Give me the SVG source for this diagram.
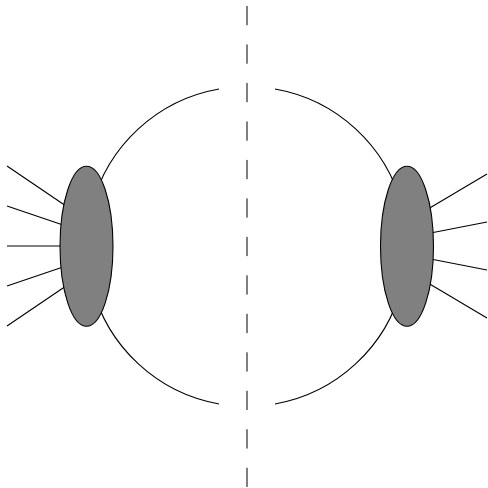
<svg xmlns="http://www.w3.org/2000/svg" width="488" height="488" viewBox="0 0 488 488">
<style>
.ln{stroke:#000;stroke-width:1.1;fill:none}
.blob{fill:#808080;stroke:#000;stroke-width:1.1}
.axis{stroke:#000;stroke-width:1;stroke-dasharray:19.24 19.24;fill:none}
</style>
<rect width="488" height="488" fill="#fff"/>
<g id="connectors">
<line class="axis" x1="247" y1="6" x2="247" y2="487"/>
<path class="ln" d="M219,89 A160,160 0 0 0 92,206"/>
<path class="ln" d="M219,404 A160,160 0 0 1 92,286"/>
<path class="ln" d="M275,89 A160,160 0 0 1 402,206"/>
<path class="ln" d="M275,404 A160,160 0 0 0 402,286"/>
<line class="ln" x1="7" y1="166" x2="66" y2="206"/>
<line class="ln" x1="7" y1="206" x2="66" y2="226"/>
<line class="ln" x1="7" y1="246" x2="66" y2="246"/>
<line class="ln" x1="7" y1="286" x2="66" y2="266"/>
<line class="ln" x1="7" y1="326" x2="66" y2="286"/>
<line class="ln" x1="487" y1="174" x2="428" y2="209"/>
<line class="ln" x1="487" y1="222" x2="428" y2="233.5"/>
<line class="ln" x1="487" y1="270" x2="428" y2="258.5"/>
<line class="ln" x1="487" y1="318" x2="428" y2="283"/>
</g>
<g id="left-blob"><ellipse class="blob" cx="86.5" cy="246.3" rx="26.5" ry="80"/></g>
<g id="right-blob"><ellipse class="blob" cx="407" cy="246.3" rx="26.5" ry="80"/></g>
</svg>
